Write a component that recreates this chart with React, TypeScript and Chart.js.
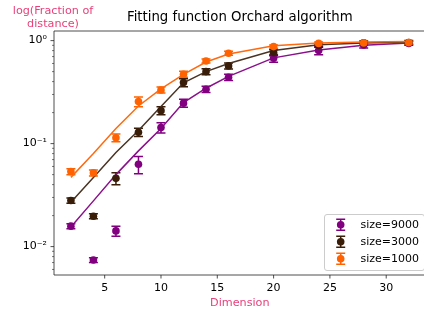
import { useEffect, useRef } from "react";
import { Chart, registerables } from "chart.js";

Chart.register(...registerables);

// ---- data ----
const dims = [2, 4, 6, 8, 10, 12, 14, 16, 20, 24, 28, 32];
const seriesLabels = ["size=9000", "size=3000", "size=1000"];

const val9000 = [0.0158, 0.0074, 0.0142, 0.063, 0.143, 0.247, 0.337, 0.441, 0.675, 0.8, 0.908, 0.94];
const err9000 = [0.0009, 0.0004, 0.0016, 0.012, 0.016, 0.022, 0.023, 0.03, 0.06, 0.07, 0.06, 0.04];
const fit9000 = [0.0155, 0.0278, 0.05, 0.085, 0.14, 0.25, 0.345, 0.45, 0.68, 0.81, 0.9, 0.95];

const val3000 = [0.028, 0.0197, 0.046, 0.129, 0.209, 0.391, 0.5, 0.568, 0.765, 0.9, 0.95, 0.96];
const err3000 = [0.0016, 0.0011, 0.0062, 0.0116, 0.0187, 0.035, 0.034, 0.038, 0.05, 0.04, 0.043, 0.043];
const fit3000 = [0.027, 0.047, 0.082, 0.134, 0.229, 0.39, 0.5, 0.6, 0.8, 0.91, 0.95, 0.97];

const val1000 = [0.0535, 0.052, 0.114, 0.256, 0.332, 0.472, 0.635, 0.755, 0.875, 0.94, 0.95, 0.956];
const err1000 = [0.0036, 0.0035, 0.01, 0.028, 0.022, 0.032, 0.028, 0.034, 0.03, 0.03, 0.03, 0.03];
const fit1000 = [0.047, 0.08, 0.14, 0.232, 0.34, 0.47, 0.62, 0.74, 0.89, 0.95, 0.97, 0.98];

const xTicks = [5, 10, 15, 20, 25, 30];
const yMajorTicks = [0.01, 0.1, 1];
const yMajorLabels = ["10⁻²", "10⁻¹", "10⁰"];
const yMinorTicks = [0.006, 0.007, 0.008, 0.009, 0.02, 0.03, 0.04, 0.05, 0.06, 0.07, 0.08, 0.09, 0.2, 0.3, 0.4, 0.5, 0.6, 0.7, 0.8, 0.9];

const titleText = "Fitting function Orchard algorithm";
const yTitleLines = ["log(Fraction of", "distance)"];
const xTitleText = "Dimension";

const markerColors = ["#800080", "#3a1d08", "#ff6200"];
const lineColors = ["#8a108a", "#4a3322", "#ff6a10"];
const labelColor = "#e8407a";
const FONT = "'DejaVu Sans', sans-serif";

const values = [val9000, val3000, val1000];
const errors = [err9000, err3000, err1000];
const fits = [fit9000, fit3000, fit1000];

export default function App() {
  const ref = useRef<HTMLCanvasElement | null>(null);

  useEffect(() => {
    document.body.style.margin = "0";
    const canvas = ref.current;
    if (!canvas) return;

    const datasets: any[] = [];
    fits.forEach((f, i) => {
      datasets.push({
        label: "fit " + seriesLabels[i],
        data: dims.map((d, k) => ({ x: d, y: f[k] })),
        borderColor: lineColors[i],
        borderWidth: 1.5,
        pointRadius: 0,
        fill: false,
        tension: 0,
        order: 10 - i,
      });
    });
    values.forEach((v, i) => {
      datasets.push({
        label: seriesLabels[i],
        data: dims.map((d, k) => ({ x: d, y: v[k] })),
        showLine: false,
        pointRadius: 3.8,
        pointBackgroundColor: markerColors[i],
        pointBorderColor: markerColors[i],
        pointBorderWidth: 0,
        order: 5 - i,
      });
    });

    const decor = {
      id: "decor",
      beforeDatasetsDraw(chart: any) {
        const { ctx } = chart;
        const xs = chart.scales.x;
        const ys = chart.scales.y;
        ctx.save();
        values.forEach((v, i) => {
          ctx.strokeStyle = markerColors[i];
          ctx.lineWidth = 1.5;
          dims.forEach((d, k) => {
            const px = xs.getPixelForValue(d);
            const top = ys.getPixelForValue(v[k] + errors[i][k]);
            const bot = ys.getPixelForValue(v[k] - errors[i][k]);
            ctx.beginPath();
            ctx.moveTo(px, top);
            ctx.lineTo(px, bot);
            ctx.moveTo(px - 4.5, top);
            ctx.lineTo(px + 4.5, top);
            ctx.moveTo(px - 4.5, bot);
            ctx.lineTo(px + 4.5, bot);
            ctx.stroke();
          });
        });
        ctx.restore();
      },
      afterDraw(chart: any) {
        const { ctx, chartArea } = chart;
        const xs = chart.scales.x;
        const ys = chart.scales.y;
        const L = chartArea.left;
        const B = chartArea.bottom;
        const T = chartArea.top;
        const R = xs.getPixelForValue(33.5);
        ctx.save();
        ctx.strokeStyle = "#222";
        ctx.lineWidth = 0.8;
        ctx.beginPath();
        ctx.moveTo(L, T);
        ctx.lineTo(R, T);
        ctx.moveTo(L, T);
        ctx.lineTo(L, B);
        ctx.moveTo(L, B);
        ctx.lineTo(R, B);
        ctx.stroke();
        ctx.beginPath();
        xTicks.forEach((t) => {
          const px = xs.getPixelForValue(t);
          ctx.moveTo(px, B);
          ctx.lineTo(px, B + 3.5);
        });
        yMajorTicks.forEach((t) => {
          const py = ys.getPixelForValue(t);
          ctx.moveTo(L - 3.5, py);
          ctx.lineTo(L, py);
        });
        ctx.stroke();
        ctx.lineWidth = 0.6;
        ctx.beginPath();
        yMinorTicks.forEach((t) => {
          const py = ys.getPixelForValue(t);
          ctx.moveTo(L - 2, py);
          ctx.lineTo(L, py);
        });
        ctx.stroke();

        const cx = xs.getPixelForValue(17);
        ctx.fillStyle = "#000";
        ctx.font = `13.3px ${FONT}`;
        ctx.textAlign = "center";
        ctx.textBaseline = "middle";
        ctx.fillText(titleText, cx, 18);
        ctx.fillStyle = labelColor;
        ctx.font = `11.2px ${FONT}`;
        ctx.fillText(xTitleText, cx, 303);
        ctx.fillText(yTitleLines[0], 53, 11);
        ctx.fillText(yTitleLines[1], 53, 24);

        const lx = 324.5, ly = 214.5, lw = 100, lh = 56;
        ctx.fillStyle = "rgba(255,255,255,0.85)";
        ctx.strokeStyle = "#cccccc";
        ctx.lineWidth = 1;
        ctx.beginPath();
        const r = 2.5;
        ctx.moveTo(lx + r, ly);
        ctx.lineTo(lx + lw - r, ly);
        ctx.arcTo(lx + lw, ly, lx + lw, ly + r, r);
        ctx.lineTo(lx + lw, ly + lh - r);
        ctx.arcTo(lx + lw, ly + lh, lx + lw - r, ly + lh, r);
        ctx.lineTo(lx + r, ly + lh);
        ctx.arcTo(lx, ly + lh, lx, ly + lh - r, r);
        ctx.lineTo(lx, ly + r);
        ctx.arcTo(lx, ly, lx + r, ly, r);
        ctx.closePath();
        ctx.fill();
        ctx.stroke();
        const rows = [224.7, 241.7, 258.7];
        seriesLabels.forEach((lab, i) => {
          const mx = 340.7, my = rows[i];
          ctx.strokeStyle = markerColors[i];
          ctx.lineWidth = 1.5;
          ctx.beginPath();
          ctx.moveTo(mx, my - 5.5);
          ctx.lineTo(mx, my + 5.5);
          ctx.moveTo(mx - 4.5, my - 5.5);
          ctx.lineTo(mx + 4.5, my - 5.5);
          ctx.moveTo(mx - 4.5, my + 5.5);
          ctx.lineTo(mx + 4.5, my + 5.5);
          ctx.stroke();
          ctx.fillStyle = markerColors[i];
          ctx.beginPath();
          ctx.arc(mx, my, 3.8, 0, Math.PI * 2);
          ctx.fill();
          ctx.fillStyle = "#000";
          ctx.font = `11px ${FONT}`;
          ctx.textAlign = "left";
          ctx.textBaseline = "middle";
          ctx.fillText(lab, 360.5, my);
        });
        ctx.restore();
      },
    };

    const chart = new Chart(canvas, {
      type: "line",
      data: { datasets },
      plugins: [decor],
      options: {
        responsive: false,
        animation: false,
        layout: { padding: { top: 31, left: 0, right: 0, bottom: 0 } },
        plugins: {
          legend: { display: false },
          title: { display: false },
          tooltip: { enabled: false },
        },
        scales: {
          x: {
            type: "linear",
            min: 0.5,
            max: 33.0,
            afterBuildTicks: (s: any) => {
              s.ticks = xTicks.map((v) => ({ value: v }));
            },
            afterFit: (s: any) => {
              s.height = 37;
            },
            grid: { display: false, drawTicks: true, tickLength: 3.5 },
            border: { display: false },
            ticks: {
              padding: 3,
              autoSkip: false,
              maxRotation: 0,
              color: "#000",
              font: { family: FONT, size: 11 },
              callback: (v: any) => String(v),
            },
          },
          y: {
            type: "logarithmic",
            min: 0.0053,
            max: 1.24,
            afterBuildTicks: (s: any) => {
              s.ticks = yMajorTicks.map((v) => ({ value: v }));
            },
            afterFit: (s: any) => {
              s.width = 54;
            },
            grid: { display: false, drawTicks: true, tickLength: 3.5 },
            border: { display: false },
            ticks: {
              padding: 3.5,
              autoSkip: false,
              color: "#000",
              font: { family: FONT, size: 11 },
              callback: (v: any) => {
                const idx = yMajorTicks.findIndex((t) => Math.abs(t - v) < 1e-9);
                return idx >= 0 ? yMajorLabels[idx] : "";
              },
            },
          },
        },
      },
    } as any);

    return () => chart.destroy();
  }, []);

  return (
    <div style={{ width: 424, height: 312 }}>
      <canvas ref={ref} width={424} height={312} style={{ display: "block" }} />
    </div>
  );
}
